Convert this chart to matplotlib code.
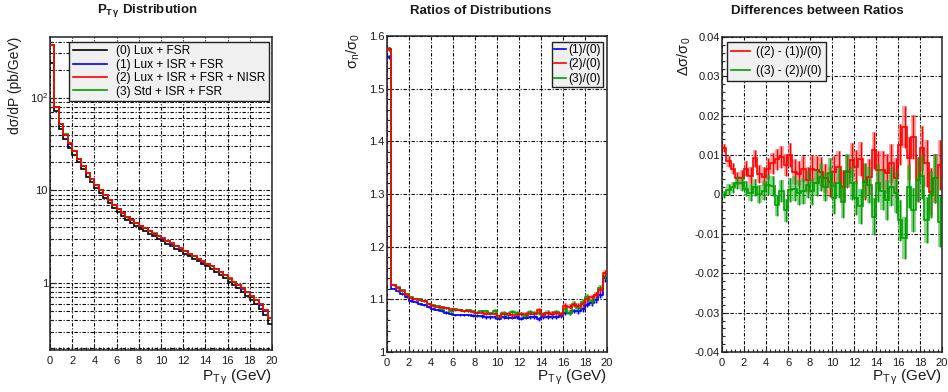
import matplotlib
matplotlib.use("Agg")
import matplotlib.pyplot as plt
import numpy as np
from matplotlib.lines import Line2D
from matplotlib.ticker import FixedLocator, FixedFormatter, MultipleLocator, LogLocator, NullFormatter, FuncFormatter

plt.rcParams['font.family'] = ['Liberation Sans', 'DejaVu Sans']
plt.rcParams['mathtext.fontset'] = 'custom'
plt.rcParams['mathtext.rm'] = 'Liberation Sans'
plt.rcParams['mathtext.it'] = 'Liberation Sans:italic'
plt.rcParams['mathtext.bf'] = 'Liberation Sans:bold'

# 50 bins of 0.4 GeV in P_T
bin_edges = np.linspace(0, 20, 51)

# d sigma / dP (pb/GeV)
dist0 = [235, 71, 46.4, 35.9, 28.9, 24.0, 20.0, 16.8, 14.1, 12.2,
         10.6, 9.3, 8.2, 7.3, 6.48, 5.83, 5.28, 4.82, 4.45, 4.14,
         3.86, 3.63, 3.40, 3.19, 3.00, 2.84, 2.66, 2.50, 2.36, 2.21,
         2.07, 1.94, 1.83, 1.71, 1.59, 1.51, 1.415, 1.32, 1.23, 1.14,
         1.04, 0.958, 0.881, 0.809, 0.733, 0.664, 0.598, 0.532, 0.456, 0.365]
dist1 = [367, 79.7, 51.9, 39.8, 31.9, 26.4, 21.9, 18.3, 15.3, 13.2,
         11.5, 10.0, 8.84, 7.86, 6.95, 6.25, 5.66, 5.16, 4.76, 4.43,
         4.12, 3.88, 3.62, 3.40, 3.20, 3.02, 2.84, 2.66, 2.51, 2.36,
         2.20, 2.07, 1.95, 1.82, 1.69, 1.61, 1.51, 1.41, 1.31, 1.22,
         1.117, 1.03, 0.950, 0.871, 0.792, 0.724, 0.654, 0.584, 0.505, 0.416]
dist2 = [370, 80, 52, 40, 32, 26.5, 22, 18.5, 15.5, 13.3,
         11.5, 10.1, 8.9, 7.9, 7.0, 6.3, 5.7, 5.2, 4.8, 4.45,
         4.15, 3.9, 3.65, 3.42, 3.22, 3.03, 2.85, 2.68, 2.52, 2.37,
         2.22, 2.08, 1.96, 1.84, 1.72, 1.62, 1.52, 1.42, 1.32, 1.22,
         1.13, 1.04, 0.96, 0.88, 0.80, 0.73, 0.66, 0.59, 0.51, 0.42]
dist3 = [370, 80.1, 52.1, 40.1, 32.1, 26.5, 22, 18.5, 15.5, 13.3,
         11.5, 10.1, 8.88, 7.91, 6.98, 6.31, 5.71, 5.2, 4.8, 4.46,
         4.15, 3.91, 3.66, 3.43, 3.24, 3.03, 2.86, 2.68, 2.54, 2.38,
         2.22, 2.07, 1.97, 1.84, 1.71, 1.62, 1.52, 1.42, 1.32, 1.22,
         1.12, 1.03, 0.962, 0.877, 0.803, 0.733, 0.656, 0.59, 0.512, 0.418]

# ratios sigma_n / sigma_0
ratio1 = [1.560, 1.120, 1.115, 1.110, 1.104, 1.097, 1.094, 1.091, 1.089, 1.085,
          1.081, 1.079, 1.078, 1.075, 1.073, 1.071, 1.071, 1.070, 1.070, 1.069,
          1.068, 1.068, 1.066, 1.066, 1.066, 1.063, 1.066, 1.065, 1.065, 1.066,
          1.063, 1.065, 1.066, 1.066, 1.062, 1.066, 1.067, 1.066, 1.066, 1.069,
          1.074, 1.075, 1.078, 1.077, 1.081, 1.090, 1.093, 1.098, 1.108, 1.140]
ratio2 = [1.575, 1.127, 1.121, 1.115, 1.108, 1.102, 1.100, 1.099, 1.096, 1.091,
          1.088, 1.086, 1.085, 1.083, 1.081, 1.080, 1.079, 1.078, 1.078, 1.076,
          1.074, 1.075, 1.073, 1.072, 1.073, 1.068, 1.072, 1.073, 1.070, 1.071,
          1.073, 1.072, 1.073, 1.073, 1.080, 1.070, 1.074, 1.073, 1.074, 1.072,
          1.088, 1.086, 1.090, 1.088, 1.091, 1.100, 1.104, 1.108, 1.118, 1.150]
ratio3 = [1.575, 1.128, 1.123, 1.118, 1.111, 1.104, 1.100, 1.101, 1.096, 1.092,
          1.090, 1.088, 1.082, 1.084, 1.077, 1.081, 1.080, 1.078, 1.079, 1.078,
          1.075, 1.078, 1.077, 1.074, 1.078, 1.067, 1.075, 1.071, 1.076, 1.074,
          1.072, 1.069, 1.076, 1.075, 1.074, 1.073, 1.075, 1.072, 1.076, 1.072,
          1.081, 1.075, 1.092, 1.084, 1.095, 1.105, 1.097, 1.108, 1.122, 1.145]
ratio_err = [0.004, 0.0012, 0.0012, 0.0013, 0.0014, 0.0014, 0.0015, 0.0015, 0.0016, 0.0017,
             0.0017, 0.0018, 0.0019, 0.0019, 0.0020, 0.0021, 0.0021, 0.0022, 0.0023, 0.0023,
             0.0024, 0.0025, 0.0025, 0.0026, 0.0027, 0.0027, 0.0028, 0.0029, 0.0030, 0.0030,
             0.0031, 0.0032, 0.0033, 0.0034, 0.0036, 0.0037, 0.0038, 0.0039, 0.0040, 0.0041,
             0.0043, 0.0044, 0.0045, 0.0046, 0.0047, 0.0048, 0.0050, 0.0052, 0.0055, 0.0065]

# differences between ratios
diff21 = [0.0117, 0.0085, 0.0066, 0.0041, 0.0043, 0.0066, 0.0048, 0.0092, 0.0053, 0.0045,
          0.0066, 0.0079, 0.0089, 0.0096, 0.0075, 0.0100, 0.0058, 0.0053, 0.0066, 0.0037,
          0.0066, 0.0062, 0.0058, 0.0041, 0.0032, 0.0058, 0.0070, 0.0020, 0.0058, 0.0087,
          0.0070, 0.0090, 0.0032, 0.0045, 0.0112, 0.0062, 0.0062, 0.0054, 0.0079, 0.0041,
          0.0126, 0.0172, 0.0092, 0.0147, 0.0037, 0.0117, 0.0079, 0.0007, 0.0041, 0.0075]
diff32 = [0.0000, 0.0012, 0.0018, 0.0030, 0.0028, 0.0015, 0.0005, 0.0018, 0.0002, 0.0010,
          0.0025, 0.0022, -0.0027, 0.0010, -0.0040, 0.0012, 0.0015, 0.0005, 0.0010, 0.0025,
          0.0008, 0.0030, 0.0045, 0.0020, 0.0055, -0.0010, 0.0030, -0.0018, 0.0060, 0.0030,
          -0.0008, -0.0030, 0.0035, 0.0025, -0.0056, 0.0029, 0.0010, -0.0014, 0.0020, 0.0005,
          -0.0065, -0.0110, 0.0020, -0.0039, 0.0037, 0.0046, -0.0065, 0.0000, 0.0041, -0.0069]
diff_err = [0.0010, 0.0014, 0.0015, 0.0017, 0.0018, 0.0019, 0.0021, 0.0022, 0.0023, 0.0024,
            0.0026, 0.0026, 0.0027, 0.0028, 0.0029, 0.0030, 0.0031, 0.0032, 0.0033, 0.0034,
            0.0035, 0.0035, 0.0036, 0.0037, 0.0038, 0.0039, 0.0040, 0.0041, 0.0042, 0.0043,
            0.0043, 0.0044, 0.0045, 0.0046, 0.0047, 0.0048, 0.0049, 0.0050, 0.0050, 0.0051,
            0.0052, 0.0054, 0.0055, 0.0056, 0.0057, 0.0058, 0.0059, 0.0060, 0.0062, 0.0064]

dist_labels = ["(0) Lux + FSR", "(1) Lux + ISR + FSR", "(2) Lux + ISR + FSR + NISR", "(3) Std + ISR + FSR"]
ratio_labels = ["(1)/(0)", "(2)/(0)", "(3)/(0)"]
diff_labels = ["((2) - (1))/(0)", "((3) - (2))/(0)"]

BLACK = "#000000"
BLUE = "#0000ff"
RED = "#ff0000"
GREEN = "#00a000"
GRID_DASH = (3, 1.6, 1, 1.6)
TEXT_COLOR = "#1a1a1a"

centers = 0.5 * (bin_edges[:-1] + bin_edges[1:])
width = bin_edges[1] - bin_edges[0]


def style_axes(ax):
    for s in ax.spines.values():
        s.set_linewidth(1.1)
        s.set_color("#222222")
    ax.tick_params(which="both", direction="in", top=False, right=False,
                   labelsize=8, colors="#222222", labelcolor=TEXT_COLOR)
    ax.tick_params(which="major", length=4, width=0.8)
    ax.tick_params(which="minor", length=2.2, width=0.8)
    ax.tick_params(axis="x", pad=4)
    ax.tick_params(axis="y", pad=1.5)
    ax.set_xlim(0, 20)
    ax.xaxis.set_major_locator(MultipleLocator(2))
    ax.xaxis.set_minor_locator(MultipleLocator(0.4))
    ax.grid(True, which="major", color="black", lw=0.8, linestyle=(0, GRID_DASH))
    ax.set_axisbelow(True)


def hist_with_errors(ax, vals, err, color, fill, alpha):
    vals = np.asarray(vals)
    err = np.asarray(err)
    ax.bar(centers, 2 * err, width=width, bottom=vals - err, color=fill,
           alpha=alpha, linewidth=0, zorder=2)
    ax.errorbar(centers, vals, yerr=err, fmt="none", ecolor=color,
                elinewidth=1.0, capsize=0, zorder=3)
    ax.stairs(vals, bin_edges, baseline=None, color=color, lw=1.2, zorder=3)


fig = plt.figure(figsize=(9.48, 3.92), dpi=100)
ax1 = fig.add_axes([50 / 948, 1 - 350 / 392, 222 / 948, 313 / 392])
ax2 = fig.add_axes([387 / 948, 1 - 352 / 392, 220 / 948, 316 / 392])
ax3 = fig.add_axes([722 / 948, 1 - 352 / 392, 220 / 948, 315 / 392])

# ---- panel 1: distributions
style_axes(ax1)
ax1.set_yscale("log")
ax1.set_ylim(0.19, 450)
ax1.yaxis.set_major_locator(FixedLocator([1, 10, 100]))
ax1.yaxis.set_major_formatter(FixedFormatter(["1", "10", r"$10^{2}$"]))
ax1.yaxis.set_minor_locator(LogLocator(base=10, subs=range(2, 10)))
ax1.yaxis.set_minor_formatter(NullFormatter())
ax1.grid(True, which="minor", axis="y", color="black", lw=0.8, linestyle=(0, GRID_DASH))
for vals, c in [(dist0, BLACK), (dist1, BLUE), (dist3, GREEN), (dist2, RED)]:
    ax1.stairs(vals, bin_edges, baseline=None, color=c, lw=1.2, zorder=3)
h1 = [Line2D([], [], color=c, lw=1.2) for c in (BLACK, BLUE, RED, GREEN)]
leg1 = ax1.legend(h1, dist_labels, loc="upper right", bbox_to_anchor=(0.985, 0.985),
                  fontsize=8.6, frameon=True, fancybox=False, edgecolor="#222222",
                  facecolor="#f0f0f0", framealpha=1, handlelength=2.9, handletextpad=0.7,
                  labelspacing=0.12, borderpad=0.3, borderaxespad=0)
leg1.get_frame().set_linewidth(1.0)
leg1.set_zorder(5)

# ---- panel 2: ratios
style_axes(ax2)
ax2.set_ylim(1.0, 1.6)
ax2.yaxis.set_major_locator(MultipleLocator(0.1))
ax2.yaxis.set_minor_locator(MultipleLocator(0.02))
ax2.yaxis.set_major_formatter(FuncFormatter(lambda v, p: "%g" % round(v, 3)))
hist_with_errors(ax2, ratio1, ratio_err, BLUE, "#8080ff", 0.6)
hist_with_errors(ax2, ratio3, ratio_err, GREEN, "#70d070", 0.6)
hist_with_errors(ax2, ratio2, ratio_err, RED, "#ff8080", 0.6)
h2 = [Line2D([], [], color=c, lw=1.2) for c in (BLUE, RED, GREEN)]
leg2 = ax2.legend(h2, ratio_labels, loc="upper right", bbox_to_anchor=(0.982, 0.982),
                  fontsize=8.6, frameon=True, fancybox=False, edgecolor="#222222",
                  facecolor="#f0f0f0", framealpha=1, handlelength=1.0, handletextpad=0.15,
                  labelspacing=0.2, borderpad=0.2, borderaxespad=0)
leg2.get_frame().set_linewidth(1.0)
leg2.set_zorder(5)

# ---- panel 3: differences
style_axes(ax3)
ax3.set_ylim(-0.04, 0.04)
ax3.yaxis.set_major_locator(MultipleLocator(0.01))
ax3.yaxis.set_minor_locator(MultipleLocator(0.002))
ax3.yaxis.set_major_formatter(FuncFormatter(lambda v, p: "%g" % round(v, 4)))
hist_with_errors(ax3, diff21, diff_err, RED, "#ff7070", 0.6)
hist_with_errors(ax3, diff32, diff_err, GREEN, "#50b850", 0.6)
h3 = [Line2D([], [], color=c, lw=1.2) for c in (RED, GREEN)]
leg3 = ax3.legend(h3, diff_labels, loc="upper left", bbox_to_anchor=(0.023, 0.984),
                  fontsize=8.6, frameon=True, fancybox=False, edgecolor="#222222",
                  facecolor="#f0f0f0", framealpha=1, handlelength=1.6, handletextpad=0.5,
                  labelspacing=0.55, borderpad=0.35, borderaxespad=0)
leg3.get_frame().set_linewidth(1.0)
leg3.set_zorder(5)

# ---- titles and axis labels
ptg = r"P$_{\mathregular{T\,\gamma}}$"
fig.text(147 / 948, 1 - 11 / 392, ptg + " Distribution", ha="center", va="center",
         fontsize=9.5, fontweight="bold", color=TEXT_COLOR)
fig.text(481 / 948, 1 - 11 / 392, "Ratios of Distributions", ha="center", va="center",
         fontsize=9.5, fontweight="bold", color=TEXT_COLOR)
fig.text(817 / 948, 1 - 11 / 392, "Differences between Ratios", ha="center", va="center",
         fontsize=9.5, fontweight="bold", color=TEXT_COLOR)

fig.text(15 / 948, 1 - 37 / 392, "d\u03c3/dP (pb/GeV)", rotation=90, ha="center", va="top",
         fontsize=10, color=TEXT_COLOR)
fig.text(353 / 948, 1 - 33 / 392, r"$\mathregular{\sigma_{n}/\sigma_{0}}$", rotation=90,
         ha="center", va="top", fontsize=10.5, color=TEXT_COLOR)
fig.text(684 / 948, 1 - 37 / 392, r"$\mathregular{\Delta\sigma/\sigma_{0}}$", rotation=90,
         ha="center", va="top", fontsize=10.5, color=TEXT_COLOR)

for xr in (272, 607, 942):
    fig.text(xr / 948, 1 - 368 / 392, ptg + " (GeV)", ha="right", va="top",
             fontsize=11, color=TEXT_COLOR)

fig.savefig("out.png", dpi=100)
